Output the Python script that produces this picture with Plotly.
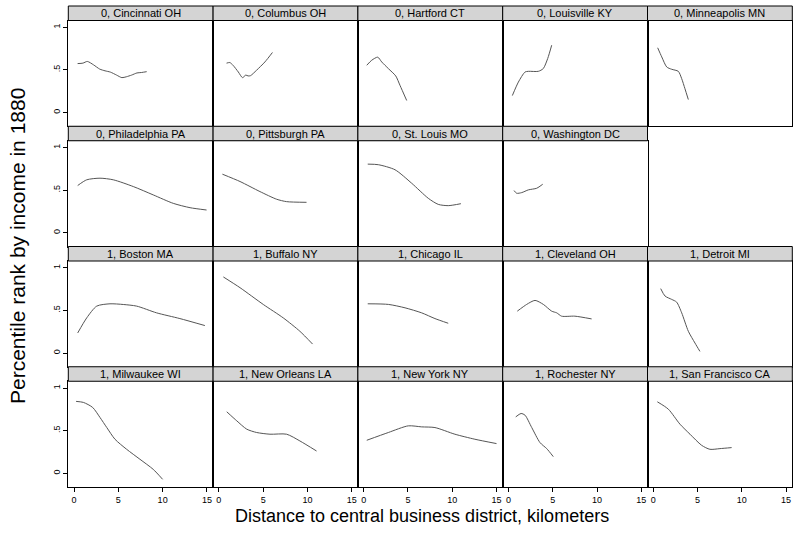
import plotly.graph_objects as go

# ---------------- data ----------------
cities = ["0, Cincinnati OH", "0, Columbus OH", "0, Hartford CT", "0, Louisville KY", "0, Minneapolis MN",
          "0, Philadelphia PA", "0, Pittsburgh PA", "0, St. Louis MO", "0, Washington DC",
          "1, Boston MA", "1, Buffalo NY", "1, Chicago IL", "1, Cleveland OH", "1, Detroit MI",
          "1, Milwaukee WI", "1, New Orleans LA", "1, New York NY", "1, Rochester NY", "1, San Francisco CA"]
group = [0, 0, 0, 0, 0, 0, 0, 0, 0, 1, 1, 1, 1, 1, 1, 1, 1, 1, 1]

x_cincinnati = [0.4, 1.0, 1.5, 2.2, 2.9, 3.5, 4.1, 4.8, 5.4, 5.9, 6.5, 7.1, 7.6, 8.2]
y_cincinnati = [0.575, 0.58, 0.60, 0.56, 0.51, 0.49, 0.475, 0.44, 0.41, 0.42, 0.44, 0.465, 0.47, 0.48]
x_columbus = [0.87, 1.24, 1.6, 2.2, 2.67, 3.04, 3.3, 3.57, 4.25, 5.2, 6.05]
y_columbus = [0.58, 0.587, 0.555, 0.476, 0.41, 0.44, 0.43, 0.433, 0.496, 0.594, 0.705]
x_hartford = [0.35, 0.91, 1.59, 2.04, 2.79, 3.62, 4.1, 4.86]
y_hartford = [0.555, 0.614, 0.65, 0.594, 0.516, 0.43, 0.32, 0.142]
x_louisville = [0.44, 1.12, 1.87, 2.25, 3.37, 3.93, 4.43, 4.88]
y_louisville = [0.20, 0.358, 0.476, 0.484, 0.484, 0.516, 0.634, 0.79]
x_minneapolis = [0.5, 0.96, 1.52, 2.08, 2.83, 3.21, 3.58, 3.96]
y_minneapolis = [0.76, 0.653, 0.535, 0.508, 0.484, 0.398, 0.28, 0.153]
x_philadelphia = [0.41, 1.43, 2.93, 4.43, 6.69, 8.94, 11.2, 13.1, 14.96]
y_philadelphia = [0.555, 0.622, 0.641, 0.622, 0.543, 0.445, 0.346, 0.295, 0.268]
x_pittsburgh = [0.4, 2.39, 4.64, 6.53, 7.65, 9.9]
y_pittsburgh = [0.688, 0.602, 0.484, 0.394, 0.366, 0.358]
x_stlouis = [0.46, 1.66, 3.54, 5.42, 7.3, 8.42, 9.55, 10.98]
y_stlouis = [0.806, 0.799, 0.74, 0.582, 0.405, 0.334, 0.319, 0.342]
x_washington = [0.63, 0.93, 1.5, 2.25, 3.19, 3.87]
y_washington = [0.496, 0.464, 0.472, 0.504, 0.523, 0.57]
x_boston = [0.41, 1.43, 2.56, 4.06, 5.56, 7.07, 9.32, 11.95, 14.77]
y_boston = [0.236, 0.413, 0.551, 0.578, 0.57, 0.551, 0.472, 0.405, 0.323]
x_buffalo = [0.51, 2.39, 5.02, 7.27, 9.15, 10.58]
y_buffalo = [0.893, 0.767, 0.57, 0.413, 0.256, 0.106]
x_chicago = [0.46, 2.79, 4.67, 6.55, 8.05, 9.55]
y_chicago = [0.578, 0.571, 0.531, 0.472, 0.405, 0.35]
x_cleveland = [1.0, 2.06, 3.0, 3.94, 4.88, 5.45, 6.0, 7.5, 9.39]
y_cleveland = [0.492, 0.571, 0.618, 0.571, 0.492, 0.472, 0.433, 0.433, 0.401]
x_detroit = [0.84, 1.33, 2.08, 2.64, 3.21, 3.96, 4.71, 5.27]
y_detroit = [0.756, 0.669, 0.63, 0.598, 0.472, 0.256, 0.118, 0.02]
x_milwaukee = [0.23, 1.05, 2.1, 2.93, 3.69, 4.62, 5.94, 7.44, 8.94, 10.0]
y_milwaukee = [0.844, 0.832, 0.773, 0.655, 0.538, 0.40, 0.282, 0.165, 0.047, -0.07]
x_neworleans = [0.89, 2.02, 3.15, 4.27, 5.77, 7.65, 9.15, 11.03]
y_neworleans = [0.722, 0.616, 0.518, 0.479, 0.459, 0.459, 0.38, 0.262]
x_newyork = [0.35, 2.79, 5.04, 6.55, 8.05, 10.3, 12.56, 15.0]
y_newyork = [0.388, 0.479, 0.557, 0.545, 0.537, 0.459, 0.40, 0.349]
x_rochester = [0.82, 1.42, 1.87, 2.63, 3.56, 4.32, 5.06]
y_rochester = [0.662, 0.702, 0.682, 0.537, 0.361, 0.29, 0.196]
x_sanfrancisco = [0.46, 1.7, 3.02, 4.15, 5.46, 6.4, 7.53, 8.85]
y_sanfrancisco = [0.839, 0.753, 0.576, 0.459, 0.329, 0.282, 0.29, 0.302]

x_ticks = [0, 5, 10, 15]
y_ticks = [0, 0.5, 1]
y_ticktext = ["0", ".5", "1"]

xs = [x_cincinnati, x_columbus, x_hartford, x_louisville, x_minneapolis, x_philadelphia, x_pittsburgh,
      x_stlouis, x_washington, x_boston, x_buffalo, x_chicago, x_cleveland, x_detroit, x_milwaukee,
      x_neworleans, x_newyork, x_rochester, x_sanfrancisco]
ys = [y_cincinnati, y_columbus, y_hartford, y_louisville, y_minneapolis, y_philadelphia, y_pittsburgh,
      y_stlouis, y_washington, y_boston, y_buffalo, y_chicago, y_cleveland, y_detroit, y_milwaukee,
      y_neworleans, y_newyork, y_rochester, y_sanfrancisco]

# ---------------- layout geometry (pixels) ----------------
W, H = 795, 540
LEFT, PW = 68.3, 144.8
TOP, RH, HDR = 6.0, 120.25, 14.5
FONT = "Liberation Sans, Arial, Helvetica, sans-serif"
TICKFONT = "Liberation Sans Narrow, Arial Narrow, Liberation Sans, sans-serif"


def px(v):
    return v / W


def py(v):
    return 1 - v / H


fig = go.Figure()
layout = dict(width=W, height=H, margin=dict(l=0, r=0, t=0, b=0), showlegend=False,
              plot_bgcolor="white", paper_bgcolor="white", font=dict(family=FONT, color="black"))
shapes, annotations = [], []

for i, name in enumerate(cities):
    j = i if group[i] == 0 else i - 9
    r, c = divmod(j, 5)
    if group[i] == 1:
        r += 2
    k = i + 1
    xa = "xaxis" if k == 1 else f"xaxis{k}"
    ya = "yaxis" if k == 1 else f"yaxis{k}"
    xr = "x" if k == 1 else f"x{k}"
    yr = "y" if k == 1 else f"y{k}"
    x0p = LEFT + c * PW
    x1p = x0p + PW
    htop = TOP + r * RH
    ptop = htop + HDR
    pbot = htop + RH
    bottom_row = (r == 3)
    layout[xa] = dict(domain=[px(x0p), px(x1p)], anchor=yr, range=[-0.65, 15.7],
                      showgrid=False, zeroline=False, showline=True, mirror=True,
                      linecolor="black", linewidth=1,
                      tickvals=x_ticks, ticks="outside" if bottom_row else "",
                      ticklen=4, tickcolor="black", showticklabels=bottom_row,
                      tickfont=dict(size=9, family=TICKFONT))
    layout[ya] = dict(domain=[py(pbot), py(ptop)], anchor=xr, range=[-0.16, 1.08],
                      showgrid=False, zeroline=False, showline=True, mirror=True,
                      linecolor="black", linewidth=1,
                      tickvals=y_ticks, ticktext=y_ticktext,
                      ticks="outside" if c == 0 else "", ticklen=4, tickcolor="black",
                      showticklabels=(c == 0), tickangle=-90,
                      tickfont=dict(size=9, family=TICKFONT))
    fig.add_trace(go.Scatter(x=xs[i], y=ys[i], mode="lines", xaxis=xr, yaxis=yr,
                             line=dict(color="#555555", width=1, shape="spline", smoothing=0.7),
                             hoverinfo="skip"))
    shapes.append(dict(type="rect", xref="paper", yref="paper",
                       x0=px(x0p), x1=px(x1p), y0=py(ptop), y1=py(htop),
                       fillcolor="#d4d4d4", line=dict(color="black", width=1), layer="above"))
    annotations.append(dict(xref="paper", yref="paper", x=px((x0p + x1p) / 2),
                            y=py(htop + HDR / 2), text=name, showarrow=False,
                            xanchor="center", yanchor="middle",
                            font=dict(size=11, family=FONT, color="black")))

annotations.append(dict(xref="paper", yref="paper", x=px(18), y=py(246),
                        text="Percentile rank by income in 1880", showarrow=False, textangle=-90,
                        xanchor="center", yanchor="middle", font=dict(size=21, family=FONT)))
annotations.append(dict(xref="paper", yref="paper", x=px(422), y=py(516),
                        text="Distance to central business district, kilometers", showarrow=False,
                        xanchor="center", yanchor="middle", borderpad=0,
                        font=dict(size=18, family=FONT)))

layout["shapes"] = shapes
layout["annotations"] = annotations
fig.update_layout(**layout)
fig.write_html("out.html", config={"displayModeBar": False, "staticPlot": True},
               post_script="document.body.style.margin='0';document.body.style.overflow='hidden';")
